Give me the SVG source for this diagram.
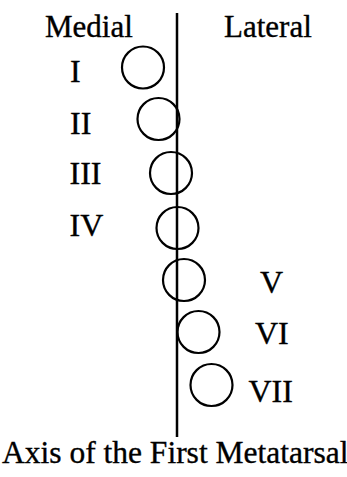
<svg xmlns="http://www.w3.org/2000/svg" width="347" height="477" viewBox="0 0 347 477">
  <style>
    text { font-family: "Liberation Serif", "Times New Roman", serif; font-size: 31px; fill: #000; stroke: #000; stroke-width: 0.35; }
    .numeral { font-size: 32px; }
    .caption { font-size: 31.5px; }
    .ray { fill: none; stroke: #000; stroke-width: 2.2; }
    .axis { stroke: #000; stroke-width: 2.5; }
  </style>
  <rect width="347" height="477" fill="#fff"/>
  <g id="headings">
    <text x="45" y="37">Medial</text>
    <text x="224" y="37">Lateral</text>
  </g>
  <g id="connectors">
    <line class="axis" x1="177" y1="13" x2="177" y2="437"/>
  </g>
  <g id="ray-I">
    <circle class="ray" cx="143" cy="67.5" r="21"/>
    <text class="numeral" x="70" y="82">I</text>
  </g>
  <g id="ray-II">
    <circle class="ray" cx="158.5" cy="119" r="21"/>
    <text class="numeral" x="70" y="133.5">II</text>
  </g>
  <g id="ray-III">
    <circle class="ray" cx="171" cy="173" r="21"/>
    <text class="numeral" x="69.5" y="183.5">III</text>
  </g>
  <g id="ray-IV">
    <circle class="ray" cx="177.5" cy="228" r="21"/>
    <text class="numeral" x="69.5" y="236">IV</text>
  </g>
  <g id="ray-V">
    <circle class="ray" cx="184" cy="280" r="21"/>
    <text class="numeral" x="260" y="292.5">V</text>
  </g>
  <g id="ray-VI">
    <circle class="ray" cx="198.5" cy="332" r="21"/>
    <text class="numeral" x="255" y="343.5">VI</text>
  </g>
  <g id="ray-VII">
    <circle class="ray" cx="211.5" cy="385" r="21"/>
    <text class="numeral" x="248.5" y="401.5">VII</text>
  </g>
  <g id="caption">
    <text class="caption" x="2" y="463">Axis of the First Metatarsal</text>
  </g>
</svg>
